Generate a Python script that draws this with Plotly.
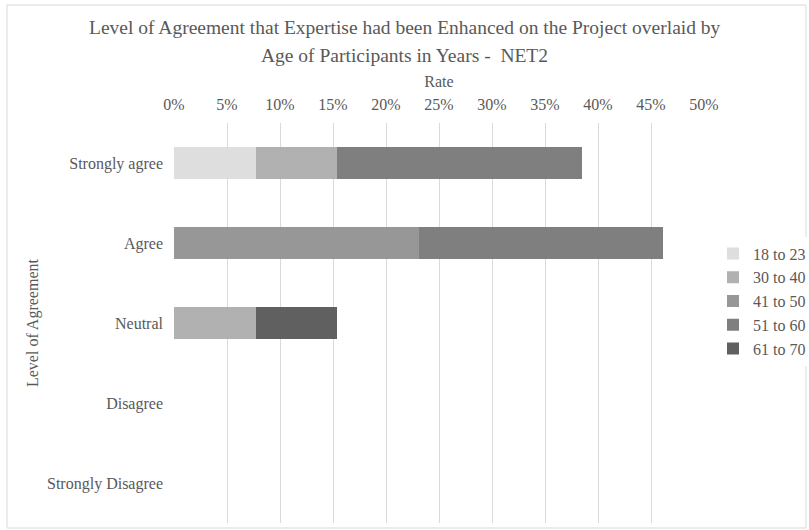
import plotly.graph_objects as go

categories = ["Strongly agree", "Agree", "Neutral", "Disagree", "Strongly Disagree"]
age_groups = ["18 to 23", "30 to 40", "41 to 50", "51 to 60", "61 to 70"]
# share of respondents (fraction) per agreement level, one list per age group
rates = {
    "18 to 23": [0.0769, 0.0, 0.0, 0.0, 0.0],
    "30 to 40": [0.0769, 0.0, 0.0769, 0.0, 0.0],
    "41 to 50": [0.0, 0.2308, 0.0, 0.0, 0.0],
    "51 to 60": [0.2308, 0.2308, 0.0, 0.0, 0.0],
    "61 to 70": [0.0, 0.0, 0.0769, 0.0, 0.0],
}
colors = ["#dedede", "#b1b1b1", "#979797", "#7f7f7f", "#606060"]
tick_vals = [0, 0.05, 0.10, 0.15, 0.20, 0.25, 0.30, 0.35, 0.40, 0.45, 0.50]
title_lines = [
    "Level of Agreement that Expertise had been Enhanced on the Project overlaid by",
    "Age of Participants in Years -  NET2",
]

text_color = "#595959"
font_family = "Liberation Serif"

W, H = 809, 530
L, R, T, B = 174, 105, 123, 7

fig = go.Figure()
for grp, col in zip(age_groups, colors):
    fig.add_trace(go.Bar(
        y=categories, x=rates[grp], name=grp, orientation="h",
        marker=dict(color=col, line=dict(width=0)),
    ))

pw, ph = W - L - R, H - T - B

# chart title drawn as two centred lines with wider line spacing
title_annotations = [
    dict(
        text=line, xref="paper", yref="paper",
        x=(W / 2 - L) / pw, y=1 + (T - yc) / ph,
        xanchor="center", yanchor="middle", showarrow=False,
        font=dict(size=19.5, family=font_family, color=text_color),
    )
    for line, yc in zip(title_lines, [28, 55])
]

fig.update_layout(
    width=W, height=H,
    barmode="stack", bargap=0.6,
    paper_bgcolor="white", plot_bgcolor="white",
    margin=dict(l=L, r=R, t=T, b=B, autoexpand=False),
    font=dict(family=font_family, color=text_color, size=16),
    xaxis=dict(
        side="top", range=[0, 0.5], tickvals=tick_vals, tickformat=".0%",
        showgrid=True, gridcolor="#d9d9d9", gridwidth=1, zeroline=False,
        showline=False, ticks="", tickfont=dict(size=16),
        ticklabelstandoff=9,
        title=dict(text="Rate", font=dict(size=16), standoff=4),
    ),
    yaxis=dict(
        categoryorder="array", categoryarray=categories, autorange="reversed",
        showgrid=False, zeroline=False, showline=False, ticks="",
        ticklabelstandoff=10, tickfont=dict(size=16),
    ),
    annotations=title_annotations + [dict(
        text="Level of Agreement", textangle=-90,
        xref="paper", yref="paper", x=-(L - 33) / pw, y=0.5,
        xanchor="center", yanchor="middle", showarrow=False,
        font=dict(size=16, family=font_family, color=text_color),
    )],
    legend=dict(
        xref="container", x=713 / W, xanchor="left",
        yref="container", y=1 - 301 / H, yanchor="middle",
        font=dict(size=16), itemwidth=30, tracegroupgap=1,
        traceorder="normal",
    ),
    shapes=[dict(
        type="rect", xref="paper", yref="paper",
        x0=-(L - 7) / pw, x1=1 + (R - 3) / pw,
        y0=-(B - 2) / ph, y1=1 + (T - 5) / ph,
        line=dict(color="#d9d9d9", width=1), fillcolor="rgba(0,0,0,0)",
    )],
)

fig.write_html("out.html")
